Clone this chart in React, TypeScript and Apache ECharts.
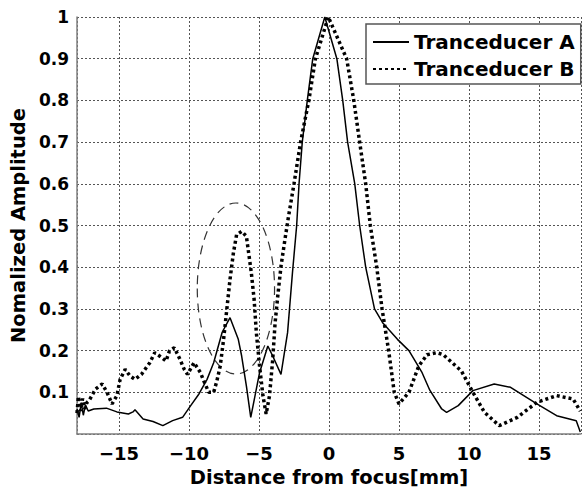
import React, { useEffect, useRef } from "react";
import * as echarts from "echarts";

const distanceA = [-18, -17.85, -17.7, -17.55, -17.4, -17.2, -16.8, -15.9, -15.15, -14.33, -14.0, -13.86, -13.28, -12.57, -11.87, -11.17, -10.46, -9.88, -9.29, -8.71, -8.24, -7.63, -7.07, -6.48, -6.24, -5.9, -5.59, -4.96, -4.37, -4.02, -3.43, -2.96, -2.61, -2.31, -2.14, -1.91, -1.55, -1.16, -0.3, 0.56, 0.98, 1.33, 1.84, 2.19, 2.62, 3.25, 3.83, 4.89, 5.71, 6.65, 7.2, 8.05, 8.4, 9.23, 10.28, 11.8, 12.97, 14.85, 16.26, 17.66, 17.95];
const amplitudeA = [0.06, 0.04, 0.075, 0.045, 0.07, 0.055, 0.06, 0.062, 0.053, 0.048, 0.053, 0.058, 0.036, 0.03, 0.02, 0.032, 0.04, 0.068, 0.096, 0.131, 0.171, 0.244, 0.279, 0.227, 0.187, 0.115, 0.04, 0.147, 0.211, 0.187, 0.143, 0.243, 0.387, 0.5, 0.6, 0.7, 0.8, 0.9, 1.0, 0.9, 0.8, 0.7, 0.6, 0.5, 0.4, 0.3, 0.267, 0.227, 0.2, 0.147, 0.105, 0.06, 0.052, 0.068, 0.104, 0.12, 0.112, 0.072, 0.044, 0.032, 0.005];

const distanceB = [-18, -17.9, -17.75, -17.6, -17.45, -17.3, -17.14, -16.67, -16.2, -15.86, -15.5, -15.15, -14.92, -14.56, -14.21, -13.86, -13.4, -12.8, -12.45, -12.1, -11.64, -11.4, -11.05, -10.7, -10.34, -10.11, -9.64, -9.18, -8.94, -8.59, -8.24, -8.01, -7.77, -7.53, -7.3, -7.07, -6.83, -6.6, -6.24, -5.9, -5.55, -5.35, -5.19, -4.96, -4.72, -4.49, -4.25, -4.02, -3.85, -3.66, -3.43, -3.15, -2.9, -2.5, -2.03, -1.44, -0.97, -0.05, 1.26, 1.77, 2.19, 2.62, 2.95, 3.41, 3.79, 4.26, 4.66, 5.0, 5.71, 6.41, 7.0, 7.7, 8.17, 9.46, 10.28, 11.1, 12.16, 13.45, 14.85, 16.26, 17.43, 17.95];
const amplitudeB = [0.05, 0.09, 0.055, 0.085, 0.06, 0.075, 0.08, 0.108, 0.12, 0.1, 0.072, 0.092, 0.131, 0.155, 0.139, 0.131, 0.143, 0.171, 0.195, 0.187, 0.175, 0.199, 0.207, 0.183, 0.155, 0.143, 0.171, 0.147, 0.127, 0.1, 0.1, 0.127, 0.163, 0.227, 0.299, 0.371, 0.434, 0.478, 0.486, 0.474, 0.387, 0.323, 0.243, 0.163, 0.092, 0.048, 0.092, 0.179, 0.267, 0.331, 0.402, 0.466, 0.52, 0.6, 0.7, 0.8, 0.9, 1.0, 0.9, 0.8, 0.7, 0.6, 0.5, 0.4, 0.3, 0.2, 0.1, 0.072, 0.1, 0.163, 0.19, 0.195, 0.19, 0.151, 0.1, 0.052, 0.02, 0.04, 0.076, 0.092, 0.084, 0.055];

// dashed annotation ellipse: [centerX, centerY, radiusX, radiusY] in data units
const ellipseMark = [-6.65, 0.349, 2.76, 0.205];

const seriesNames = ["Tranceducer A", "Tranceducer B"];
const xTitle = "Distance from focus[mm]";
const yTitle = "Nomalized Amplitude";

const FONT = '"DejaVu Sans", sans-serif';

function pairs(xs: number[], ys: number[]) {
  const n = Math.min(xs.length, ys.length);
  const out: number[][] = [];
  for (let i = 0; i < n; i++) out.push([xs[i], ys[i]]);
  return out;
}

export default function App() {
  const ref = useRef<HTMLDivElement>(null);
  useEffect(() => {
    document.body.style.margin = "0";
    if (!ref.current) return;
    const chart = echarts.init(ref.current, undefined, { renderer: "svg" });
    const labelStyle = { fontFamily: FONT, fontWeight: "bold" as const, fontSize: 17, color: "#000" };
    chart.setOption({
      animation: false,
      backgroundColor: "#fff",
      grid: { left: 73, top: 17, right: 0, bottom: 57, containLabel: false },
      legend: {
        data: seriesNames,
        orient: "vertical",
        left: 366,
        top: 24,
        itemWidth: 36,
        itemHeight: 14,
        itemGap: 7,
        padding: [8, 6, 5, 6],
        backgroundColor: "#fff",
        borderColor: "#555",
        borderWidth: 1.5,
        borderRadius: 0,
        itemStyle: { opacity: 0 },
        textStyle: { fontFamily: FONT, fontWeight: "bold", fontSize: 20, color: "#000", lineHeight: 20 },
      },
      xAxis: {
        type: "value",
        min: -18,
        max: 18,
        splitNumber: 7,
        name: xTitle,
        nameLocation: "middle",
        nameGap: 33,
        nameTextStyle: { fontFamily: FONT, fontWeight: "bold", fontSize: 19.5, color: "#000" },
        axisLine: { show: true, onZero: false, lineStyle: { color: "#808080", width: 1.5 } },
        axisTick: { show: false },
        axisLabel: {
          ...labelStyle,
          fontSize: 18,
          margin: 10,
          formatter: (v: number) => (Math.abs(v) >= 18 ? "" : String(v).replace("-", "\u2212")),
        },
        splitLine: { show: true, lineStyle: { color: "#555", type: [2, 2], width: 1 } },
      },
      yAxis: {
        type: "value",
        min: 0,
        max: 1,
        interval: 0.1,
        name: yTitle,
        nameLocation: "middle",
        nameRotate: 90,
        nameGap: 44,
        nameTextStyle: { fontFamily: FONT, fontWeight: "bold", fontSize: 19.5, color: "#000" },
        axisLine: { show: true, onZero: false, lineStyle: { color: "#808080", width: 1.5 } },
        axisTick: { show: false },
        axisLabel: {
          ...labelStyle,
          margin: 8,
          formatter: (v: number) => (v === 0 ? "" : v >= 1 ? "1" : v.toFixed(1)),
        },
        splitLine: { show: true, lineStyle: { color: "#555", type: [2, 2], width: 1 } },
      },
      series: [
        {
          name: "ellipse",
          type: "custom",
          coordinateSystem: "cartesian2d",
          silent: true,
          z: 1,
          data: [ellipseMark],
          renderItem: (params: any, api: any) => {
            const c = api.coord([api.value(0), api.value(1)]);
            const s = api.size([api.value(2), api.value(3)]);
            const rx = s[0];
            const ry = s[1];
            const d = `M ${c[0] - rx} ${c[1]} A ${rx} ${ry} 0 1 0 ${c[0] + rx} ${c[1]} A ${rx} ${ry} 0 1 0 ${c[0] - rx} ${c[1]} Z`;
            return {
              type: "path",
              shape: { pathData: d, x: c[0] - rx, y: c[1] - ry, width: 2 * rx, height: 2 * ry },
              style: { fill: "none", stroke: "#333", lineWidth: 1.2, lineDash: [9, 6] },
            };
          },
        },
        {
          name: seriesNames[0],
          type: "line",
          data: pairs(distanceA, amplitudeA),
          symbol: "none",
          smooth: false,
          z: 3,
          lineStyle: { color: "#000", width: 1.5 },
          itemStyle: { color: "#000" },
        },
        {
          name: seriesNames[1],
          type: "line",
          data: pairs(distanceB, amplitudeB),
          symbol: "none",
          smooth: false,
          z: 2,
          lineStyle: { color: "#000", width: 3.5, type: [3, 3], cap: "butt" },
          itemStyle: { color: "#000" },
        },
      ],
    });
    return () => chart.dispose();
  }, []);
  return <div ref={ref} style={{ width: 584, height: 492 }} />;
}
